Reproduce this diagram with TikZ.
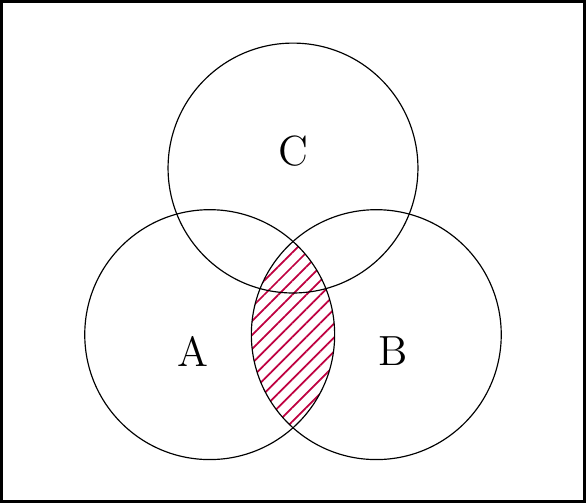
\documentclass[tikz,border=0pt]{standalone}
\usepackage{tikz}
\usetikzlibrary{patterns.meta}

\begin{document}
\begin{tikzpicture}[
  font=\Large,
  set/.style={draw=black, line width=0.4pt},
  hatch/.style={pattern={Lines[angle=45, distance=3.4pt, line width=0.6pt]}, pattern color=purple},
  frame/.style={draw=black, line width=1pt},
]
% outer frame
\draw[frame] (-3.5,-2) rectangle (3.5,4);

% ---- set centres ----
\coordinate (a) at (-1,0);
\coordinate (b) at (1,0);
\coordinate (c) at (0,2);

% ---- A intersect B, hatched ----
\begin{scope}
  \clip (a) circle (1.5);
  \fill[hatch] (b) circle (1.5);
\end{scope}

% ---- the three sets ----
\draw[set] (a) circle (1.5);
\draw[set] (b) circle (1.5);
\draw[set] (c) circle (1.5);

% ---- labels ----
\node (la) at (-1.2,-0.2) {A};
\node (lb) at (1.2,-0.2) {B};
\node (lc) at (0,2.2) {C};
\end{tikzpicture}
\end{document}
